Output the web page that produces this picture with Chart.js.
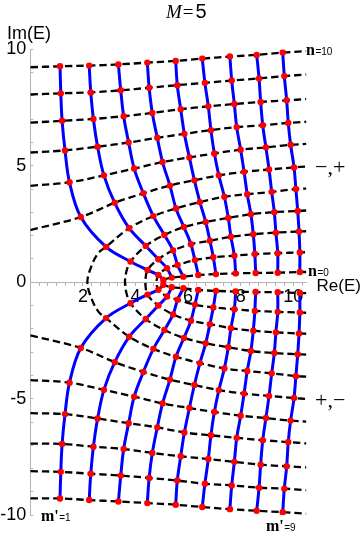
<!DOCTYPE html>
<html>
<head>
<meta charset="utf-8">
<script src="https://cdn.jsdelivr.net/npm/chart.js@4.4.0/dist/chart.umd.min.js"></script>
<style>
  html, body { margin: 0; padding: 0; background: #fff; }
  #wrap { width: 364px; height: 533px; }
</style>
</head>
<body>
<div id="wrap"><canvas id="grid" width="364" height="533"></canvas></div>
<script>
// dots along each blue curve m' = 1..9, index = n (0..10)
const m1Re = [5.06, 4.87, 4.46, 3.81, 2.88, 1.92, 1.49, 1.32, 1.21, 1.16, 1.13];
const m2Re = [5.38, 5.20, 4.87, 4.39, 3.76, 3.21, 2.80, 2.56, 2.40, 2.30, 2.24];
const m3Re = [5.82, 5.60, 5.43, 5.10, 4.68, 4.30, 3.95, 3.74, 3.55, 3.44, 3.35];
const m4Re = [6.39, 6.26, 6.11, 5.84, 5.54, 5.31, 5.03, 4.83, 4.64, 4.52, 4.45];
const m5Re = [7.06, 6.96, 6.83, 6.67, 6.45, 6.24, 6.05, 5.86, 5.72, 5.59, 5.53];
const m6Re = [7.81, 7.76, 7.63, 7.53, 7.38, 7.17, 7.00, 6.87, 6.77, 6.64, 6.54];
const m7Re = [8.57, 8.54, 8.48, 8.39, 8.25, 8.13, 8.00, 7.85, 7.76, 7.66, 7.59];
const m8Re = [9.41, 9.41, 9.34, 9.28, 9.18, 9.08, 8.96, 8.84, 8.76, 8.70, 8.61];
const m9Re = [10.25, 10.25, 10.22, 10.17, 10.10, 10.03, 9.90, 9.81, 9.75, 9.66, 9.60];

// upper half (-,+)
const m1Im = [0.10, 0.31, 0.52, 0.89, 1.52, 2.80, 4.29, 5.66, 6.93, 8.11, 9.27];
const m2Im = [0.20, 0.60, 0.99, 1.56, 2.32, 3.41, 4.59, 5.82, 7.01, 8.15, 9.30];
const m3Im = [0.24, 0.74, 1.36, 2.03, 2.84, 3.82, 4.88, 6.00, 7.13, 8.24, 9.35];
const m4Im = [0.31, 0.95, 1.63, 2.37, 3.17, 4.15, 5.16, 6.20, 7.27, 8.35, 9.43];
const m5Im = [0.35, 1.07, 1.78, 2.59, 3.44, 4.38, 5.36, 6.37, 7.43, 8.46, 9.50];
const m6Im = [0.38, 1.14, 1.95, 2.76, 3.67, 4.59, 5.53, 6.53, 7.55, 8.56, 9.60];
const m7Im = [0.40, 1.21, 2.06, 2.92, 3.78, 4.74, 5.69, 6.66, 7.65, 8.66, 9.69];
const m8Im = [0.41, 1.25, 2.13, 3.01, 3.88, 4.84, 5.79, 6.74, 7.74, 8.75, 9.76];
const m9Im = [0.44, 1.28, 2.18, 3.06, 4.00, 4.93, 5.90, 6.84, 7.81, 8.85, 9.86];

// lower half (+,-)
const m1ImLow = [-0.11, -0.32, -0.53, -0.90, -1.54, -2.82, -4.31, -5.66, -6.94, -8.14, -9.28];
const m2ImLow = [-0.21, -0.61, -1.00, -1.58, -2.34, -3.43, -4.62, -5.85, -7.06, -8.22, -9.35];
const m3ImLow = [-0.26, -0.75, -1.38, -2.05, -2.86, -3.85, -4.91, -6.05, -7.16, -8.30, -9.41];
const m4ImLow = [-0.33, -0.96, -1.65, -2.39, -3.20, -4.18, -5.20, -6.23, -7.33, -8.40, -9.48];
const m5ImLow = [-0.37, -1.08, -1.80, -2.62, -3.47, -4.41, -5.40, -6.45, -7.47, -8.51, -9.55];
const m6ImLow = [-0.40, -1.16, -1.97, -2.79, -3.70, -4.63, -5.57, -6.57, -7.59, -8.65, -9.65];
const m7ImLow = [-0.42, -1.23, -2.08, -2.95, -3.81, -4.78, -5.73, -6.68, -7.71, -8.72, -9.74];
const m8ImLow = [-0.43, -1.27, -2.15, -3.04, -3.91, -4.88, -5.83, -6.78, -7.83, -8.82, -9.81];
const m9ImLow = [-0.46, -1.30, -2.20, -3.09, -4.03, -4.97, -5.94, -6.86, -7.90, -8.86, -9.87];

// ends of the dashed n curves
const rightEndRe = 10.5;
const rightEndIm = [0.44, 1.29, 2.19, 3.08, 4.02, 4.97, 5.94, 6.89, 7.86, 8.92, 9.92];
const rightEndImLow = [-0.47, -1.31, -2.21, -3.11, -4.05, -5.01, -5.98, -6.92, -7.95, -8.93, -9.93];
const leftEndIm = [2.24, 4.14, 5.57, 6.85, 8.06, 9.23];          // n = 5..10, at Re = 0
const leftEndImLow = [-2.28, -4.20, -5.62, -6.93, -8.11, -9.28];
// n = 0..4 loop round through the real axis here
const arcCrossRe = [4.99, 4.80, 4.38, 3.60, 2.17];
const arcN3Re = [3.66], arcN3Im = [0.48], arcN3ImLow = [-0.48];
const arcN4Re = [2.33, 2.59], arcN4Im = [0.71, 1.26], arcN4ImLow = [-0.71, -1.26];

const xTickLabels = [2, 4, 6, 8, 10];
const yTickLabels = [-10, -5, 0, 5, 10];

const mRe = [m1Re, m2Re, m3Re, m4Re, m5Re, m6Re, m7Re, m8Re, m9Re];
const mIm = [m1Im, m2Im, m3Im, m4Im, m5Im, m6Im, m7Im, m8Im, m9Im];
const mImLow = [m1ImLow, m2ImLow, m3ImLow, m4ImLow, m5ImLow, m6ImLow, m7ImLow, m8ImLow, m9ImLow];

const pt = (x, y) => ({ x, y });

const dashedStyle = {
  borderColor: '#000', borderWidth: 2.3, borderDash: [7.5, 4], pointRadius: 0,
  showLine: true, tension: 0.35, fill: false, order: 3
};
const blueStyle = {
  borderColor: '#0000ff', borderWidth: 3, pointRadius: 0,
  showLine: true, tension: 0.35, fill: false, order: 2
};

const datasets = [];

// dashed n curves
for (let n = 0; n <= 10; n++) {
  const up = mRe.map((re, k) => pt(re[n], mIm[k][n]));
  const low = mRe.map((re, k) => pt(re[n], mImLow[k][n]));
  if (n <= 4) {
    let extraUp = [], extraLow = [];
    if (n === 3) {
      extraUp = arcN3Re.map((r, i) => pt(r, arcN3Im[i]));
      extraLow = arcN3Re.map((r, i) => pt(r, arcN3ImLow[i]));
    }
    if (n === 4) {
      extraUp = arcN4Re.map((r, i) => pt(r, arcN4Im[i]));
      extraLow = arcN4Re.map((r, i) => pt(r, arcN4ImLow[i]));
    }
    const data = [pt(rightEndRe, rightEndImLow[n])]
      .concat(low.slice().reverse(), extraLow.slice().reverse(),
              [pt(arcCrossRe[n], 0)], extraUp, up,
              [pt(rightEndRe, rightEndIm[n])]);
    datasets.push(Object.assign({}, dashedStyle, { data }));
  } else {
    datasets.push(Object.assign({}, dashedStyle, {
      data: [pt(0, leftEndIm[n - 5])].concat(up, [pt(rightEndRe, rightEndIm[n])])
    }));
    datasets.push(Object.assign({}, dashedStyle, {
      data: [pt(0, leftEndImLow[n - 5])].concat(low, [pt(rightEndRe, rightEndImLow[n])])
    }));
  }
}

// blue m' curves
mRe.forEach((re, k) => {
  datasets.push(Object.assign({}, blueStyle, { data: re.map((r, n) => pt(r, mIm[k][n])) }));
  datasets.push(Object.assign({}, blueStyle, { data: re.map((r, n) => pt(r, mImLow[k][n])) }));
});

// red dots
const dots = [];
mRe.forEach((re, k) => {
  re.forEach((r, n) => {
    dots.push(pt(r, mIm[k][n]));
    dots.push(pt(r, mImLow[k][n]));
  });
});
datasets.push({
  data: dots, showLine: false, pointRadius: 3.2, pointBackgroundColor: '#ff0000',
  pointBorderWidth: 0, pointBorderColor: '#ff0000', order: 1
});

const axisGray = '#b4b4b4';

// draws a bold serif letter followed by a small "=k"
function subLabel(c, head, tail, x, y) {
  c.font = 'bold 16px "Liberation Serif"';
  c.fillText(head, x, y);
  const w = c.measureText(head).width;
  c.font = '10px "Liberation Sans"';
  c.fillText(tail, x + w + 0.5, y);
}

const textPlugin = {
  id: 'texts',
  afterDraw(chart) {
    const c = chart.ctx;
    c.save();
    c.fillStyle = '#000';
    c.textAlign = 'left';
    c.textBaseline = 'alphabetic';
    // title M=5
    let x = 166;
    c.font = 'italic 19px "Liberation Serif"';
    c.fillText('M', x, 17.5);
    x += c.measureText('M').width + 1;
    c.font = '19px "Liberation Serif"';
    c.fillText('=', x, 17.5);
    x += c.measureText('=').width + 2;
    c.font = '20px "Liberation Sans"';
    c.fillText('5', x, 17.5);
    // axis names
    c.font = '18px "Liberation Sans"';
    c.fillText('Im(E)', 7, 38.5);
    c.font = '17px "Liberation Sans"';
    c.fillText('Re(E)', 316.5, 290.5);
    // n labels
    subLabel(c, 'n', '=10', 306, 54.5);
    subLabel(c, 'n', '=0', 308, 275.5);
    // branch signs
    c.font = '22px "Liberation Serif"';
    c.fillText('\u2212,+', 315, 174);
    c.fillText('+,\u2212', 315, 407);
    // m' labels
    subLabel(c, "m'", '=1', 41, 521);
    subLabel(c, "m'", '=9', 266, 531);
    c.restore();
  }
};

new Chart(document.getElementById('grid'), {
  type: 'scatter',
  data: { datasets },
  options: {
    responsive: false,
    animation: false,
    devicePixelRatio: 1,
    events: [],
    layout: { padding: { left: 0, right: 57.6, top: 49.3, bottom: 15 } },
    plugins: { legend: { display: false }, tooltip: { enabled: false }, title: { display: false } },
    scales: {
      x: {
        type: 'linear',
        position: { y: 0 },
        min: 0,
        max: rightEndRe,
        afterBuildTicks: (s) => {
          const t = [];
          for (let k = 1; k <= 31; k++) t.push({ value: k / 3 });
          s.ticks = t;
        },
        ticks: {
          autoSkip: false, maxRotation: 0, minRotation: 0, padding: 1,
          color: '#000', font: { family: 'Liberation Sans', size: 18 },
          callback: (v) => xTickLabels.includes(v) ? String(v) : ''
        },
        grid: { drawOnChartArea: false, drawTicks: true, tickLength: 3, tickColor: axisGray, color: axisGray },
        border: { color: axisGray, width: 1 }
      },
      y: {
        type: 'linear',
        position: 'left',
        min: -10,
        max: 10,
        afterFit: (s) => { s.width = 30.3; },
        afterBuildTicks: (s) => {
          const t = [];
          for (let v = -10; v <= 10; v++) t.push({ value: v });
          s.ticks = t;
        },
        ticks: {
          autoSkip: false, padding: 7,
          color: '#000', font: { family: 'Liberation Sans', size: 18 },
          callback: (v) => yTickLabels.includes(v) ? String(v) : ''
        },
        grid: { drawOnChartArea: false, drawTicks: true, tickLength: -3, tickColor: axisGray, color: axisGray },
        border: { color: axisGray, width: 1 }
      }
    }
  },
  plugins: [textPlugin]
});
</script>
</body>
</html>
